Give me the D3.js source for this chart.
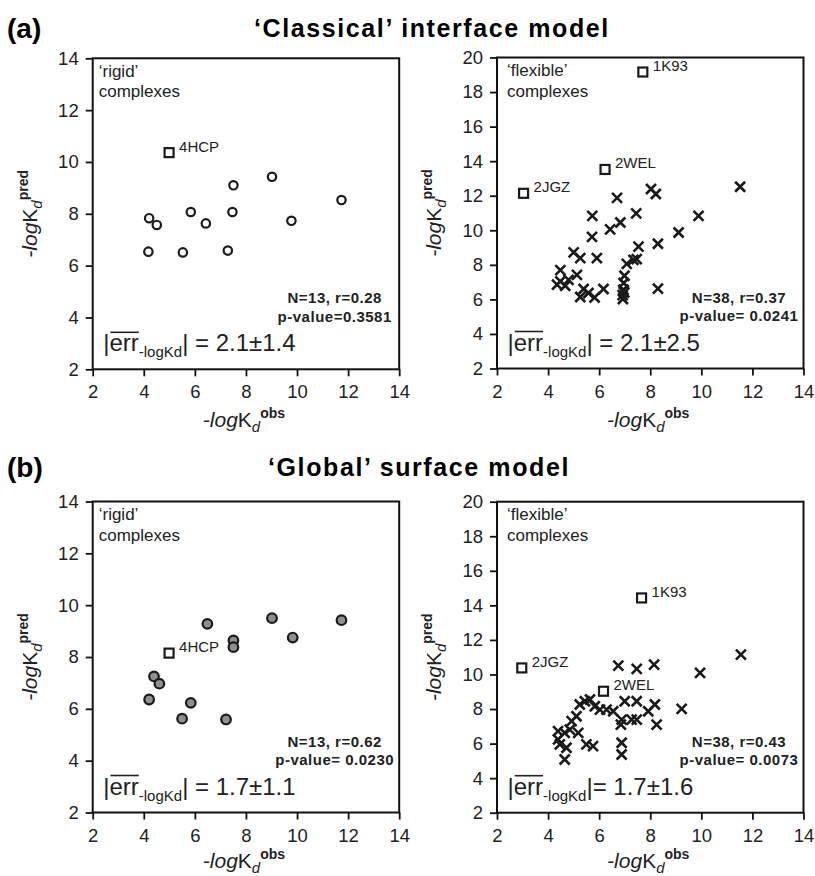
<!DOCTYPE html>
<html>
<head>
<meta charset="utf-8">
<script src="https://cdn.jsdelivr.net/npm/d3@7"></script>
<style>
  body { margin: 0; background: #fff; }
  svg { font-family: "Liberation Sans", Arial, Helvetica, sans-serif; }
</style>
</head>
<body>
<div id="chart"></div>
<script>
// ---- data: [obs, pred] ----
const xTicks = [2, 4, 6, 8, 10, 12, 14];
const yTicksRigid = [2, 4, 6, 8, 10, 12, 14];
const yTicksFlex = [2, 4, 6, 8, 10, 12, 14, 16, 18, 20];

const classicalRigid = [
  [4.21, 7.83], [4.51, 7.57], [5.84, 8.07], [6.43, 7.63], [7.47, 8.07], [7.51, 9.10],
  [9.02, 9.43], [9.78, 7.73], [11.74, 8.53], [4.18, 6.54], [5.53, 6.51], [7.29, 6.58]
];
const classicalRigidOut = [{ name: "4HCP", obs: 4.99, pred: 10.36 }];

const classicalFlex = [
  [6.70, 11.88], [8.03, 12.39], [8.22, 12.10], [11.52, 12.52], [5.73, 10.83], [6.83, 10.45],
  [7.45, 10.98], [9.89, 10.83], [5.72, 9.62], [6.43, 10.05], [9.11, 9.87], [7.54, 9.05],
  [8.30, 9.22], [5.00, 8.72], [5.26, 8.39], [5.91, 8.39], [4.48, 7.69], [5.13, 7.42],
  [4.80, 7.13], [4.48, 7.04], [4.35, 6.85], [4.67, 6.79], [5.39, 6.60], [5.58, 6.37],
  [6.17, 6.60], [5.26, 6.14], [5.82, 6.11], [7.08, 8.06], [7.34, 8.29], [7.47, 8.33],
  [6.99, 7.37], [6.96, 6.95], [6.95, 6.56], [6.98, 6.40], [6.92, 6.25], [6.93, 6.02],
  [8.30, 6.62]
];
const classicalFlexOut = [
  { name: "1K93", obs: 7.71, pred: 19.16 },
  { name: "2WEL", obs: 6.23, pred: 13.52 },
  { name: "2JGZ", obs: 3.04, pred: 12.14 }
];

const globalRigid = [
  [6.49, 9.28], [9.02, 9.50], [11.74, 9.42], [9.83, 8.75], [7.51, 8.64], [7.51, 8.38],
  [4.40, 7.25], [4.61, 6.97], [4.21, 6.36], [5.84, 6.23], [5.50, 5.62], [7.22, 5.59]
];
const globalRigidOut = [{ name: "4HCP", obs: 4.99, pred: 8.15 }];

const globalFlex = [
  [11.55, 11.15], [6.75, 10.51], [7.47, 10.32], [8.15, 10.57], [9.95, 10.09], [9.23, 8.01],
  [5.64, 8.55], [5.44, 8.45], [5.24, 8.26], [5.83, 8.16], [6.03, 7.97], [6.29, 7.97],
  [6.55, 7.87], [5.11, 7.58], [4.92, 7.30], [4.85, 6.81], [4.39, 6.72], [4.65, 6.62],
  [5.18, 6.62], [4.39, 6.24], [4.46, 5.95], [4.72, 5.76], [4.65, 5.08], [5.50, 5.95],
  [5.76, 5.85], [7.00, 8.45], [7.47, 8.45], [6.88, 7.39], [6.85, 7.10], [7.27, 7.39],
  [7.47, 7.39], [7.92, 7.87], [8.18, 8.26], [8.25, 7.10], [6.88, 6.05], [6.88, 5.37]
];
const globalFlexOut = [
  { name: "1K93", obs: 7.66, pred: 14.43 },
  { name: "2WEL", obs: 6.17, pred: 9.03 },
  { name: "2JGZ", obs: 2.97, pred: 10.38 }
];

const statsText = [
  ["N=13, r=0.28", "p-value=0.3581"],
  ["N=38, r=0.37", "p-value= 0.0241"],
  ["N=13, r=0.62", "p-value= 0.0230"],
  ["N=38, r=0.43", "p-value= 0.0073"]
];
const errText = ["| = 2.1\u00b11.4", "| = 2.1\u00b12.5", "| = 1.7\u00b11.1", "|= 1.7\u00b11.6"];

// ---- layout ----
const W = 815, H = 876;
const pw = 306.5, ph = 311;

const svg = d3.select("#chart").append("svg")
  .attr("width", W)
  .attr("height", H);

// section headings
const headings = [
  { tag: "(a)", title: "\u2018Classical\u2019 interface model", y: 37, cx: 432 },
  { tag: "(b)", title: "\u2018Global\u2019 surface model", y: 476, cx: 419 }
];
headings.forEach(h => {
  svg.append("text").attr("x", 7).attr("y", h.y + 1)
    .attr("font-size", 28).attr("font-weight", "bold")
    .text(h.tag);
  svg.append("text").attr("x", h.cx).attr("y", h.y)
    .attr("text-anchor", "middle")
    .attr("font-size", 25).attr("font-weight", "bold").attr("letter-spacing", 1.6)
    .text(h.title);
});

const panels = [
  { x0: 92.7, y0: 58.3, ymax: 14, yt: yTicksRigid, pts: classicalRigid, out: classicalRigidOut,
    kind: "open", note: "\u2018rigid\u2019", noteDx: 6, stats: statsText[0], err: errText[0], xlab: 58 },
  { x0: 497, y0: 57.5, ymax: 20, yt: yTicksFlex, pts: classicalFlex, out: classicalFlexOut,
    kind: "cross", note: "\u2018flexible\u2019", noteDx: 10, stats: statsText[1], err: errText[1], xlab: 58 },
  { x0: 92.7, y0: 501.5, ymax: 14, yt: yTicksRigid, pts: globalRigid, out: globalRigidOut,
    kind: "filled", note: "\u2018rigid\u2019", noteDx: 6, stats: statsText[2], err: errText[2], xlab: 55 },
  { x0: 497, y0: 501.7, ymax: 20, yt: yTicksFlex, pts: globalFlex, out: globalFlexOut,
    kind: "cross", note: "\u2018flexible\u2019", noteDx: 10, stats: statsText[3], err: errText[3], xlab: 55 }
];

panels.forEach(p => {
  const g = svg.append("g").attr("transform", "translate(" + p.x0 + "," + p.y0 + ")");

  const x = d3.scaleLinear().domain([2, 14]).range([0, pw]);
  const y = d3.scaleLinear().domain([2, p.ymax]).range([ph, 0]);

  // axes
  const ax = g.append("g")
    .attr("transform", "translate(0," + ph + ")")
    .call(d3.axisBottom(x).tickValues(xTicks).tickSize(7).tickPadding(9).tickSizeOuter(0));
  const ay = g.append("g")
    .call(d3.axisLeft(y).tickValues(p.yt).tickSize(7).tickPadding(7).tickSizeOuter(0));
  [ax, ay].forEach(a => {
    a.select(".domain").remove();
    a.selectAll(".tick line").attr("stroke", "#111").attr("stroke-width", 1.8);
    a.selectAll(".tick text")
      .attr("font-size", 18.5)
      .attr("fill", "#222")
      .attr("font-family", "'Liberation Sans', Arial, sans-serif");
  });

  // frame
  g.append("rect")
    .attr("x", 0).attr("y", 0).attr("width", pw).attr("height", ph)
    .attr("fill", "none").attr("stroke", "#111").attr("stroke-width", 2);

  // note at top-left
  const note = g.append("text").attr("font-size", 17).attr("fill", "#222");
  note.append("tspan").attr("x", p.noteDx).attr("y", 18.5).text(p.note);
  note.append("tspan").attr("x", p.noteDx).attr("y", 39).text("complexes");

  // points
  if (p.kind === "cross") {
    const s = 5;
    g.selectAll("path.pt").data(p.pts).enter().append("path")
      .attr("class", "pt")
      .attr("d", d => {
        const cx = x(d[0]), cy = y(d[1]);
        return "M" + (cx - s) + "," + (cy - s) + "L" + (cx + s) + "," + (cy + s) +
               "M" + (cx - s) + "," + (cy + s) + "L" + (cx + s) + "," + (cy - s);
      })
      .attr("stroke", "#1a1a1a").attr("stroke-width", 2.6).attr("fill", "none");
  } else {
    g.selectAll("circle.pt").data(p.pts).enter().append("circle")
      .attr("class", "pt")
      .attr("cx", d => x(d[0]))
      .attr("cy", d => y(d[1]))
      .attr("r", p.kind === "filled" ? 4.8 : 4.2)
      .attr("fill", p.kind === "filled" ? "#8f8f8f" : "#fff")
      .attr("stroke", "#1a1a1a")
      .attr("stroke-width", 2.2);
  }

  // outliers: open squares with names
  g.selectAll("rect.out").data(p.out).enter().append("rect")
    .attr("class", "out")
    .attr("x", d => x(d.obs) - 4.5)
    .attr("y", d => y(d.pred) - 4.5)
    .attr("width", 9).attr("height", 9)
    .attr("fill", "#fff").attr("stroke", "#1a1a1a").attr("stroke-width", 2.2);
  g.selectAll("text.out").data(p.out).enter().append("text")
    .attr("class", "out")
    .attr("x", d => x(d.obs) + 10)
    .attr("y", d => y(d.pred) - 1)
    .attr("font-size", 15).attr("fill", "#222")
    .text(d => d.name);

  // statistics
  const st = g.append("text").attr("font-size", 15).attr("font-weight", "bold")
    .attr("letter-spacing", 0.5).attr("text-anchor", "middle").attr("fill", "#222");
  st.append("tspan").attr("x", 242).attr("y", 245).text(p.stats[0]);
  st.append("tspan").attr("x", 242).attr("y", 263.5).text(p.stats[1]);

  // mean absolute error
  const et = g.append("text").attr("x", 10.5).attr("y", 293).attr("font-size", 24).attr("fill", "#222");
  et.append("tspan").attr("font-weight", "300").text("|");
  et.append("tspan").text("err");
  et.append("tspan").attr("font-size", 15).attr("dy", 6).text("-logKd");
  et.append("tspan").attr("dy", -6).text(p.err);
  const x1 = et.node().getStartPositionOfChar(1).x;
  const x2 = et.node().getEndPositionOfChar(3).x;
  g.append("line").attr("x1", x1 + 1).attr("x2", x2)
    .attr("y1", 293 - 19).attr("y2", 293 - 19)
    .attr("stroke", "#222").attr("stroke-width", 1.6);

  // axis titles
  const xl = g.append("text")
    .attr("x", pw / 2 - 2).attr("y", ph + p.xlab)
    .attr("text-anchor", "middle").attr("font-size", 21).attr("fill", "#222");
  xl.append("tspan").attr("font-style", "italic").text("-log");
  xl.append("tspan").text("K");
  xl.append("tspan").attr("font-style", "italic").attr("font-size", 15).attr("dy", 5).text("d");
  xl.append("tspan").attr("font-weight", "bold").attr("font-size", 14).attr("dy", -14).text("obs");

  const yl = g.append("text")
    .attr("transform", "translate(-56," + (ph / 2) + ") rotate(-90)")
    .attr("text-anchor", "middle").attr("font-size", 21).attr("fill", "#222");
  yl.append("tspan").attr("font-style", "italic").text("-log");
  yl.append("tspan").text("K");
  yl.append("tspan").attr("font-style", "italic").attr("font-size", 15).attr("dy", 5).text("d");
  yl.append("tspan").attr("font-weight", "bold").attr("font-size", 14).attr("dy", -14).text("pred");
});
</script>
</body>
</html>
